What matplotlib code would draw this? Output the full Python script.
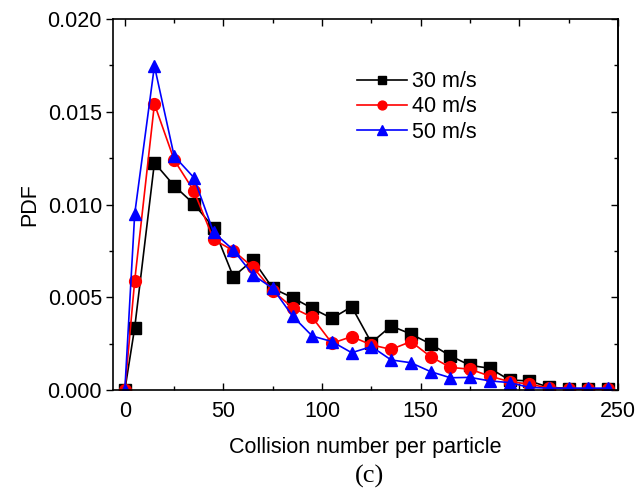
import matplotlib
matplotlib.use("Agg")
import matplotlib.pyplot as plt
from matplotlib.ticker import MultipleLocator, FormatStrFormatter

plt.rcParams['font.family'] = ['Liberation Sans', 'DejaVu Sans']

collisions = [0, 5, 15, 25, 35, 45, 55, 65, 75, 85, 95, 105, 115, 125, 135, 145,
              155, 165, 175, 185, 195, 205, 215, 225, 235, 245]
pdf_30 = [0.0, 0.00336, 0.01225, 0.01101, 0.01003, 0.00875, 0.00611, 0.00701, 0.00548,
          0.00498, 0.00440, 0.00386, 0.00449, 0.00255, 0.00345, 0.00302, 0.00248,
          0.00184, 0.00133, 0.00117, 0.00054, 0.00049, 0.00015, 0.00008, 0.00006, 0.00004]
pdf_40 = [0.0, 0.00589, 0.01542, 0.01240, 0.01073, 0.00812, 0.00751, 0.00661, 0.00535,
          0.00444, 0.00392, 0.00252, 0.00288, 0.00243, 0.00219, 0.00261, 0.00180,
          0.00122, 0.00112, 0.00075, 0.00045, 0.00032, 0.00010, 0.00008, 0.00004, 0.00004]
pdf_50 = [0.0, 0.00949, 0.01747, 0.01261, 0.01145, 0.00850, 0.00755, 0.00620, 0.00548,
          0.00399, 0.00291, 0.00261, 0.00201, 0.00234, 0.00162, 0.00147, 0.00099,
          0.00066, 0.00068, 0.00049, 0.00040, 0.00014, 0.00010, 0.00010, 0.00010, 0.00010]
labels = ['30 m/s', '40 m/s', '50 m/s']

FS = 15.5

fig = plt.figure(figsize=(6.37, 4.94), dpi=100)
ax = fig.add_axes([113/637, 1-390/494, (618-113)/637, (390-19)/494])

ax.plot(collisions, pdf_30, color='black', marker='s', ms=8, lw=1.2, label=labels[0])
ax.plot(collisions, pdf_40, color='red', marker='o', ms=8.5, lw=1.2, label=labels[1])
ax.plot(collisions, pdf_50, color='blue', marker='^', ms=9, lw=1.2, label=labels[2])

ax.set_xlim(-6, 250)
ax.set_ylim(0, 0.020)
ax.xaxis.set_major_locator(MultipleLocator(50))
ax.xaxis.set_minor_locator(MultipleLocator(25))
ax.yaxis.set_major_locator(MultipleLocator(0.005))
ax.yaxis.set_minor_locator(MultipleLocator(0.0025))
ax.yaxis.set_major_formatter(FormatStrFormatter('%.3f'))

ax.tick_params(axis='x', which='both', direction='in', top=True, bottom=True,
               labelsize=FS, pad=8)
ax.tick_params(axis='x', which='major', length=5, width=1)
ax.tick_params(axis='x', which='minor', length=3, width=1)
ax.tick_params(axis='y', which='both', direction='out', left=True, right=False,
               labelsize=FS, pad=3)
ax.tick_params(axis='y', which='major', length=5, width=1)
ax.tick_params(axis='y', which='minor', length=3, width=1)

# inward ticks on the right spine
ax2 = ax.secondary_yaxis('right')
ax2.yaxis.set_major_locator(MultipleLocator(0.005))
ax2.yaxis.set_minor_locator(MultipleLocator(0.0025))
ax2.tick_params(axis='y', which='both', direction='in', labelright=False)
ax2.tick_params(axis='y', which='major', length=5, width=1)
ax2.tick_params(axis='y', which='minor', length=3, width=1)

for s in ax.spines.values():
    s.set_linewidth(1.2)
ax2.spines['right'].set_linewidth(1.2)

ax.set_xlabel('Collision number per particle', fontsize=FS, labelpad=11)
ax.set_ylabel('PDF', fontsize=FS, labelpad=5)

leg = ax.legend(loc='center left', bbox_to_anchor=(357/637, 1-107/494),
                bbox_transform=fig.transFigure, frameon=False, fontsize=FS,
                handlelength=2.3, handletextpad=0.25, labelspacing=0.2,
                borderpad=0, borderaxespad=0, markerscale=0.75)

fig.text(369/637, 1-476/494, '(c)', ha='center', va='center', fontsize=19,
         family=['Liberation Serif', 'DejaVu Serif'])

fig.savefig('out.png', dpi=100)
